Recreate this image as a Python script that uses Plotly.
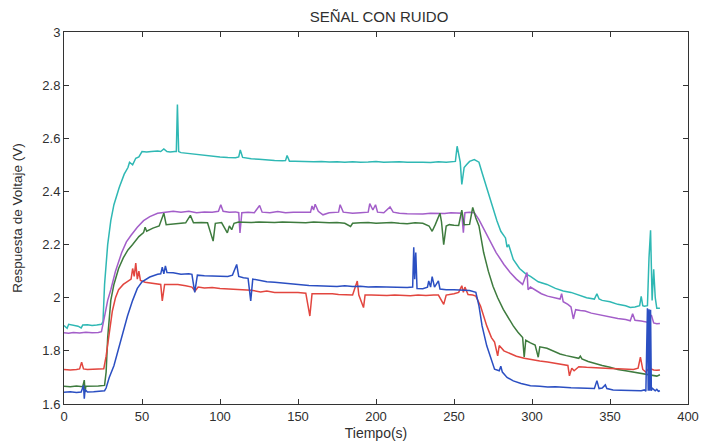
import plotly.graph_objects as go

# ---- data ----
cyan_x = [0, 2, 3, 6, 9, 11, 12, 15, 18, 21, 24, 25, 26, 28, 30, 32, 35.4, 38.6, 41, 42, 44, 46, 48, 50, 53, 56, 60, 62, 64, 66, 68, 71, 72, 72.7, 73.5, 75, 78, 82, 86, 90, 95, 100, 105, 110, 112, 113, 114.5, 117, 120, 125, 130, 135, 140, 142, 143, 144.5, 148, 152, 156, 160, 165, 170, 175, 180, 185, 190, 195, 200, 205, 210, 215, 220, 225, 230, 235, 240, 245, 248, 250.9, 252, 254, 255, 256.5, 258, 260, 263, 266, 268, 271, 274, 277.5, 280, 283, 284, 285, 288, 292, 296, 299, 304, 309.6, 315, 320, 325, 330, 335, 340, 341.6, 343, 345, 350, 355, 360, 363, 366, 369, 370, 371, 372, 374, 375, 376, 377, 378, 379, 380, 382]
cyan_y = [1.895, 1.885, 1.9, 1.897, 1.893, 1.886, 1.897, 1.898, 1.895, 1.897, 1.9, 1.91, 2.05, 2.2, 2.29, 2.35, 2.415, 2.465, 2.49, 2.51, 2.5, 2.525, 2.53, 2.55, 2.548, 2.55, 2.552, 2.55, 2.56, 2.55, 2.548, 2.55, 2.55, 2.727, 2.55, 2.546, 2.544, 2.54, 2.538, 2.535, 2.532, 2.53, 2.528, 2.527, 2.53, 2.556, 2.528, 2.525, 2.523, 2.521, 2.518, 2.516, 2.515, 2.516, 2.535, 2.514, 2.514, 2.513, 2.514, 2.512, 2.513, 2.511, 2.512, 2.51, 2.512, 2.51, 2.511, 2.513, 2.51, 2.511, 2.512, 2.51, 2.511, 2.51, 2.509, 2.512, 2.51, 2.511, 2.513, 2.57, 2.51, 2.426, 2.49, 2.5, 2.513, 2.52, 2.51, 2.47, 2.41, 2.35, 2.29, 2.25, 2.225, 2.19, 2.2, 2.144, 2.11, 2.09, 2.08, 2.06, 2.05, 2.035, 2.025, 2.02, 2.01, 2.0, 1.995, 2.015, 1.995, 1.99, 1.985, 1.975, 1.97, 1.963, 1.965, 1.97, 2.005, 1.97, 1.968, 1.97, 2.15, 2.254, 1.99, 2.107, 2.0, 1.96, 1.96]

purple_x = [0, 3, 6, 10, 14, 18, 22, 24, 26, 28, 30, 33, 37, 40, 43, 47, 51, 55, 60, 65, 70, 75, 80, 85, 90, 95, 99, 100.5, 102, 106, 110, 112, 112.8, 114, 118, 122, 125.4, 127, 132, 137, 142, 147, 152, 158, 159, 160, 161, 163, 166, 170, 176, 177, 179, 185, 190, 195, 196, 198, 199.7, 201, 205, 209, 211, 215, 220, 225, 230, 235, 240, 244, 248, 252, 255, 256, 257, 260, 263, 266, 270, 273, 277, 282, 286, 290, 294, 296.8, 297.5, 299, 303, 306, 310, 315, 318, 319, 320, 323, 325, 326.5, 328, 331, 334, 338, 342, 346, 350, 355, 360, 363, 364.5, 366, 370, 374, 376.5, 378, 380, 382]
purple_y = [1.868, 1.866, 1.869, 1.867, 1.87, 1.868, 1.869, 1.872, 1.93, 1.99, 2.03, 2.1, 2.17, 2.21, 2.235, 2.265, 2.29, 2.305, 2.318, 2.322, 2.325, 2.322, 2.325, 2.32, 2.323, 2.322, 2.325, 2.35, 2.325, 2.322, 2.323, 2.32, 2.244, 2.32, 2.322, 2.32, 2.347, 2.322, 2.32, 2.324, 2.32, 2.322, 2.321, 2.322, 2.345, 2.33, 2.352, 2.325, 2.312, 2.32, 2.322, 2.35, 2.322, 2.318, 2.32, 2.322, 2.354, 2.33, 2.35, 2.322, 2.32, 2.342, 2.322, 2.318, 2.316, 2.316, 2.315, 2.318, 2.318, 2.317, 2.32, 2.318, 2.318, 2.245, 2.32, 2.322, 2.32, 2.294, 2.25, 2.22, 2.17, 2.125, 2.095, 2.07, 2.05, 2.095, 2.03, 2.04, 2.025, 2.015, 2.006, 2.0, 1.995, 2.015, 1.985, 1.975, 1.965, 1.92, 1.955, 1.952, 1.95, 1.942, 1.937, 1.932, 1.928, 1.922, 1.918, 1.913, 1.94, 1.915, 1.912, 1.908, 1.935, 1.905, 1.902, 1.903]

green_x = [0, 4, 8, 12, 13, 13.5, 14, 18, 22, 26, 27, 28, 30, 32, 35, 38, 41, 44, 48, 51, 52, 53, 57, 61, 64, 65.5, 70, 75, 78, 81, 83, 88, 92, 95.6, 97, 101, 104.7, 106, 107.5, 109, 112, 115, 120, 125, 130, 135, 140, 145, 150, 155, 160, 165, 170, 175, 180, 183.7, 185, 190, 195, 200, 205, 210, 215, 220, 225, 230, 234, 236, 238, 241, 242, 243.4, 245, 247, 250, 253, 255, 256.5, 260, 262, 264, 266, 269, 272, 275, 278, 281.6, 285, 288, 291, 294, 295, 296, 299, 302, 304, 305, 309.6, 314, 318, 322, 326, 330, 331, 332, 336, 340, 345, 350, 355, 360, 365, 370, 375, 378, 380, 382]
green_y = [1.667, 1.665, 1.668, 1.665, 1.69, 1.645, 1.667, 1.667, 1.668, 1.67, 1.72, 1.85, 1.99, 2.05, 2.11, 2.15, 2.18, 2.2, 2.23, 2.245, 2.265, 2.25, 2.262, 2.27, 2.318, 2.275, 2.278, 2.28, 2.282, 2.31, 2.282, 2.283, 2.282, 2.213, 2.28, 2.283, 2.244, 2.27, 2.256, 2.28, 2.285, 2.284, 2.283, 2.285, 2.284, 2.283, 2.285, 2.284, 2.283, 2.282, 2.285, 2.283, 2.282, 2.283, 2.28, 2.268, 2.28, 2.282, 2.283, 2.28, 2.282, 2.283, 2.28, 2.278, 2.282, 2.28, 2.27, 2.25, 2.275, 2.318, 2.285, 2.2, 2.27, 2.275, 2.273, 2.272, 2.33, 2.275, 2.276, 2.34, 2.3, 2.27, 2.17, 2.1, 2.043, 2.0, 1.956, 1.92, 1.894, 1.87, 1.85, 1.776, 1.84, 1.83, 1.822, 1.776, 1.815, 1.81, 1.8, 1.788, 1.782, 1.776, 1.772, 1.78, 1.77, 1.76, 1.752, 1.745, 1.738, 1.73, 1.725, 1.72, 1.715, 1.712, 1.708, 1.705, 1.71]

red_x = [0, 4, 8, 10, 11.3, 12.5, 15, 18, 22, 25.5, 27, 29, 31, 33, 35, 38, 41, 43, 44, 45, 46, 47, 48, 49, 52, 56, 60, 62, 63, 64.5, 68, 73, 78, 82, 84, 86, 90, 95, 100, 105, 110, 115, 120, 126, 130, 135, 140, 145, 150, 155, 157.6, 159, 163, 168, 172, 176, 180, 185, 188, 189, 192, 193, 197, 202, 207, 212, 217, 222, 227, 232, 237, 240, 243.4, 245, 250, 253, 255, 256, 257, 259, 262, 264, 267, 271, 274, 276, 278, 279, 282, 286, 290, 295, 299, 305, 310, 315, 320, 323, 324, 325.5, 327, 330, 335, 340, 345, 350, 355, 360, 365, 368, 369.5, 371, 373, 375, 378, 380, 382]
red_y = [1.73, 1.728, 1.73, 1.732, 1.757, 1.732, 1.73, 1.731, 1.73, 1.733, 1.78, 1.87, 1.95, 2.0, 2.03, 2.05, 2.063, 2.07, 2.11, 2.08, 2.13, 2.07, 2.1, 2.065, 2.058, 2.055, 2.052, 2.05, 1.988, 2.05, 2.05, 2.05, 2.045, 2.04, 2.025, 2.04, 2.037, 2.038, 2.035, 2.033, 2.03, 2.03, 2.028, 2.022, 2.025, 2.02, 2.02, 2.018, 2.02, 2.017, 1.931, 2.015, 2.015, 2.017, 2.015, 2.012, 2.012, 2.01, 2.063, 2.01, 1.963, 2.01, 2.01, 2.009, 2.008, 2.01, 2.008, 2.007, 2.01, 2.008, 2.01, 2.01, 1.975, 2.01, 2.015, 2.02, 2.045, 2.02, 2.04, 2.012, 2.01, 2.006, 1.969, 1.894, 1.85, 1.833, 1.781, 1.82, 1.8, 1.79, 1.78, 1.772, 1.769, 1.762, 1.758, 1.753, 1.75, 1.745, 1.706, 1.735, 1.725, 1.74, 1.738, 1.736, 1.735, 1.734, 1.733, 1.732, 1.73, 1.735, 1.776, 1.73, 1.72, 1.735, 1.728, 1.727, 1.728]

blue_x = [0, 4, 8, 11, 12.5, 13, 13.5, 15, 19, 23, 26, 27, 29, 32, 36.5, 40.7, 44, 47, 50, 55, 60, 62, 63, 64, 65, 66, 70, 75, 80, 82, 83.8, 85.5, 90, 95, 100, 105, 108, 110.7, 112, 115, 118, 119.7, 121, 126, 130, 135, 140, 145, 150, 157, 162, 167, 171, 175, 180, 185, 190, 195, 200, 205, 210, 215, 220, 223.5, 224.2, 224.8, 225.5, 226.3, 230, 233, 233.8, 235, 236, 237.5, 240, 241, 245, 250, 255, 260, 264, 266, 268, 271, 276, 279, 280, 281, 284, 288, 293, 299, 305, 310, 315, 320, 325, 330, 335, 340, 341.6, 343, 345, 347, 348, 352, 357, 362, 367, 370, 372, 373, 374, 374.5, 375, 375.5, 376, 376.5, 377, 379, 380, 381, 382]
blue_y = [1.644, 1.646, 1.643, 1.645, 1.67, 1.62, 1.655, 1.645, 1.646, 1.647, 1.65, 1.66, 1.7, 1.744, 1.844, 1.931, 1.99, 2.035, 2.06, 2.078, 2.088, 2.09, 2.115, 2.09, 2.12, 2.095, 2.094, 2.088, 2.09, 2.088, 2.02, 2.085, 2.083, 2.082, 2.079, 2.08, 2.085, 2.125, 2.08, 2.075, 2.073, 1.988, 2.07, 2.063, 2.06, 2.058, 2.055, 2.052, 2.05, 2.046, 2.045, 2.044, 2.044, 2.042, 2.045, 2.042, 2.043, 2.04, 2.041, 2.04, 2.039, 2.038, 2.038, 2.04, 2.19, 2.07, 2.17, 2.035, 2.034, 2.04, 2.063, 2.04, 2.079, 2.04, 2.063, 2.033, 2.03, 2.03, 2.028, 2.027, 2.02, 1.969, 1.894, 1.819, 1.731, 1.725, 1.742, 1.72, 1.7, 1.687, 1.677, 1.669, 1.667, 1.664, 1.665, 1.662, 1.661, 1.66, 1.659, 1.658, 1.688, 1.658, 1.66, 1.672, 1.658, 1.653, 1.652, 1.652, 1.651, 1.65, 1.653, 1.648, 1.96, 1.65, 1.957, 1.65, 1.955, 1.65, 1.66, 1.65, 1.655, 1.648, 1.65]

x_ticks = [0, 50, 100, 150, 200, 250, 300, 350, 400]
y_ticks = [1.6, 1.8, 2.0, 2.2, 2.4, 2.6, 2.8, 3.0]
y_tick_labels = ["1.6", "1.8", "2", "2.2", "2.4", "2.6", "2.8", "3"]

series = [
    (cyan_x, cyan_y, "#2fb8b4"),
    (purple_x, purple_y, "#a35ec9"),
    (green_x, green_y, "#3e7b3e"),
    (red_x, red_y, "#e2463f"),
    (blue_x, blue_y, "#2b4fc2"),
]

FONT = "Liberation Sans, Arial"
TXT = "#2f2f2f"

# the page body adds an 8px margin, so the figure is sized to fit inside it
FIG_W, FIG_H = 699, 436

fig = go.Figure()
for xs, ys, col in series:
    fig.add_trace(go.Scatter(x=xs, y=ys, mode="lines",
                             line=dict(color=col, width=1.5),
                             showlegend=False, hoverinfo="skip"))

axis_common = dict(
    showgrid=False, zeroline=False, showline=True, linecolor="#333333",
    linewidth=1, mirror="ticks", ticks="inside", ticklen=5, automargin=False,
    tickcolor="#333333", tickfont=dict(family=FONT, size=13, color=TXT),
)

fig.update_layout(
    width=FIG_W, height=FIG_H,
    margin=dict(l=56, r=19, t=24, b=40),
    paper_bgcolor="white", plot_bgcolor="white",
    title=dict(text="SEÑAL CON RUIDO", x=371 / FIG_W, xref="container", xanchor="center",
               y=1 - 9 / FIG_H, yref="container", yanchor="middle",
               font=dict(family=FONT, size=15, color=TXT)),
    xaxis=dict(range=[0, 400], tickvals=x_ticks,
               title=dict(text="Tiempo(s)", standoff=5,
                          font=dict(family=FONT, size=14, color=TXT)),
               **axis_common),
    yaxis=dict(range=[1.6, 3.0], tickvals=y_ticks, ticktext=y_tick_labels,
               title=dict(text="Respuesta de Voltaje (V)", standoff=16,
                          font=dict(family=FONT, size=13.5, color=TXT)),
               **axis_common),
)

fig.write_html("out.html")
